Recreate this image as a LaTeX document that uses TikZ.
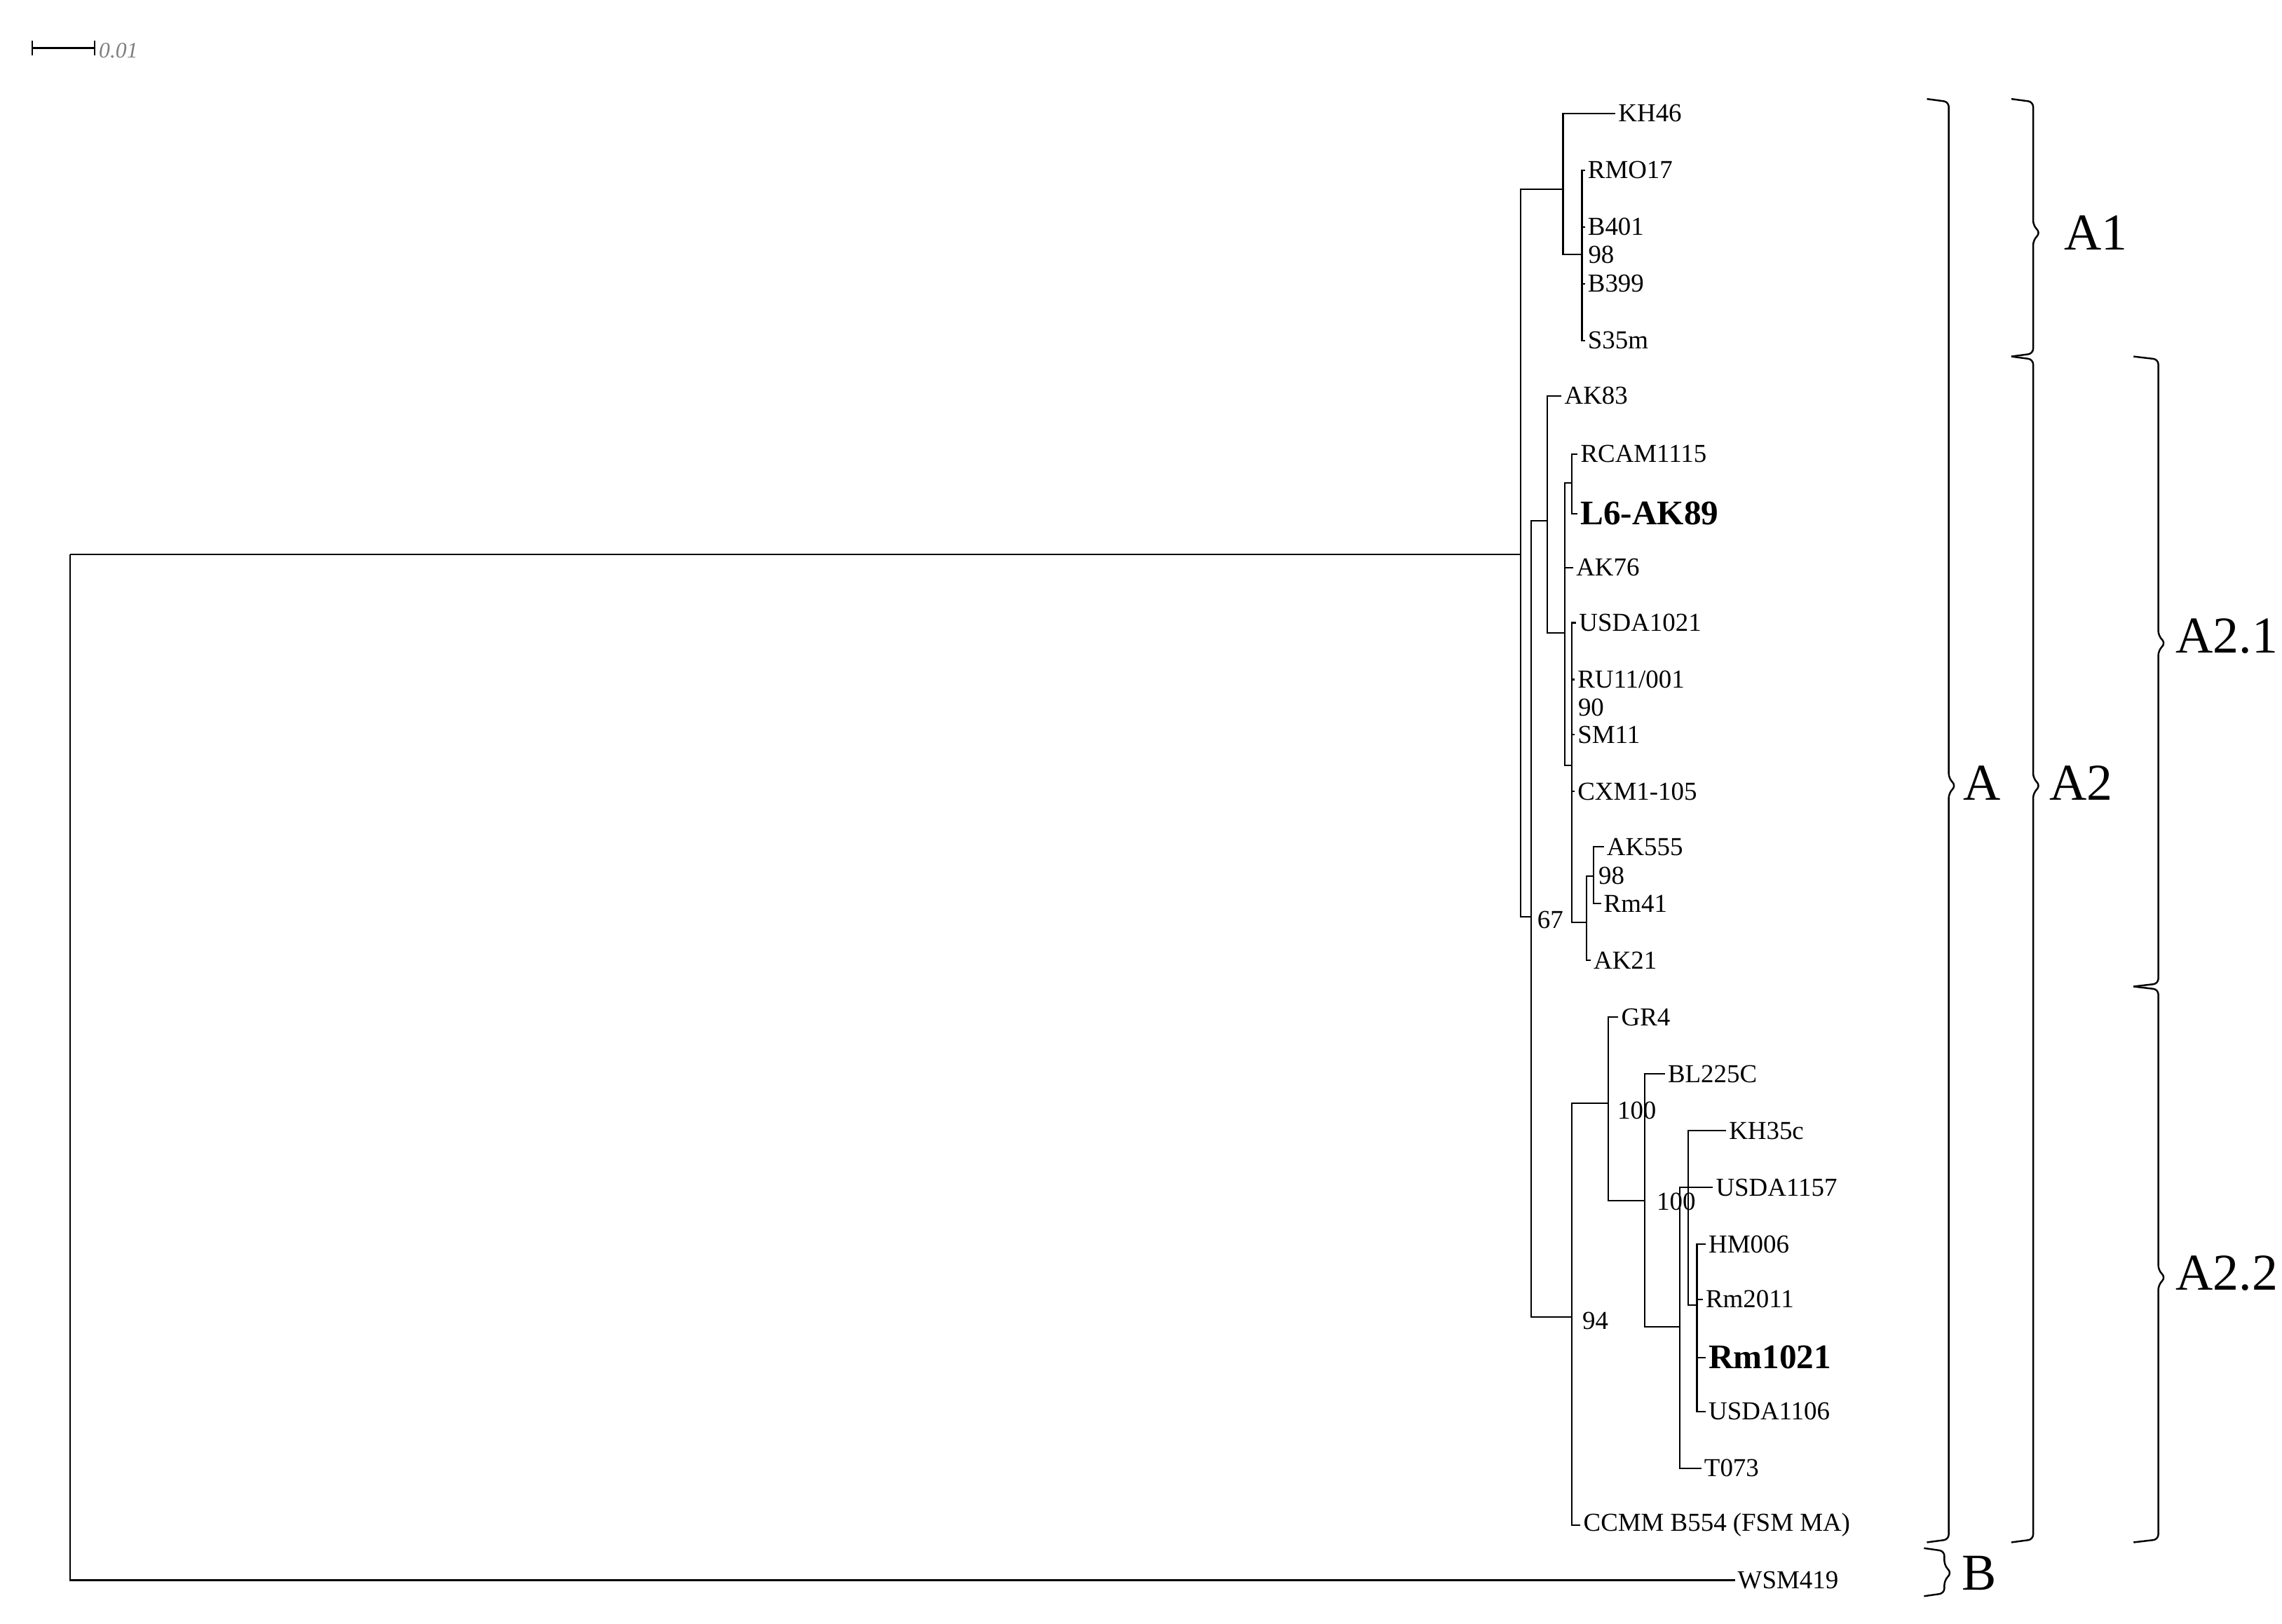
\documentclass[tikz,border=0pt]{standalone}
\usepackage{fontspec}
\setmainfont{Liberation Serif}
\begin{document}
\begin{tikzpicture}[x=0.2076mm,y=-0.2076mm,
  br/.style={line width=0.6pt},
  leaf/.style={anchor=west,inner sep=1pt,font=\fontsize{10.5}{10.5}\selectfont},
  bleaf/.style={leaf,font=\fontsize{14}{14}\selectfont\bfseries},
  boot/.style={anchor=west,inner sep=0pt,font=\fontsize{10.5}{10.5}\selectfont},
  clab/.style={inner sep=0pt,font=\fontsize{21}{21}\selectfont},
  brk/.style={line width=0.7pt,rounded corners=2pt}]
\useasboundingbox (0,0) rectangle (1568,1116);
% scale bar
\draw[br] (22,28) -- (22,38) (22,33) -- (65,33) (65,28) -- (65,38);
\node[anchor=west,inner sep=1pt,text=gray,font=\fontsize{9}{9}\selectfont\itshape] (sc) at (66,35) {0.01};
% internal nodes
\coordinate (root) at (48,381);
\coordinate (n1) at (1045,381);
\coordinate (n2) at (1052,630);
\coordinate (a1) at (1074,130);
\coordinate (s) at (1087,175);
\coordinate (a21) at (1063,358);
\coordinate (p) at (1075,435);
\coordinate (pr) at (1080,332);
\coordinate (q) at (1080,526);
\coordinate (r) at (1090,634);
\coordinate (sx) at (1095,602);
\coordinate (a22) at (1080,905);
\coordinate (t) at (1105,758);
\coordinate (u) at (1130,825);
\coordinate (v) at (1154,912);
\coordinate (w) at (1160,816);
\coordinate (xx) at (1166,897);
% leaves
\node[leaf] (kh46) at (1110,78) {KH46};
\node[leaf] (rmo17) at (1089,117) {RMO17};
\node[leaf] (b401) at (1089,156) {B401};
\node[leaf] (b399) at (1089,195) {B399};
\node[leaf] (s35m) at (1089,234) {S35m};
\node[leaf] (ak83) at (1073,272) {AK83};
\node[leaf] (rcam) at (1084,312) {RCAM1115};
\node[bleaf] (l6) at (1084,353) {L6-AK89};
\node[leaf] (ak76) at (1081,390) {AK76};
\node[leaf] (usda1021) at (1083,428) {USDA1021};
\node[leaf] (ru11) at (1082,467) {RU11/001};
\node[leaf] (sm11) at (1082,505) {SM11};
\node[leaf] (cxm1) at (1082,544) {CXM1-105};
\node[leaf] (ak555) at (1102,582) {AK555};
\node[leaf] (rm41) at (1100,621) {Rm41};
\node[leaf] (ak21) at (1093,660) {AK21};
\node[leaf] (gr4) at (1112,699) {GR4};
\node[leaf] (bl225c) at (1144,738) {BL225C};
\node[leaf] (kh35c) at (1186,777) {KH35c};
\node[leaf] (usda1157) at (1177,816) {USDA1157};
\node[leaf] (hm006) at (1172,855) {HM006};
\node[leaf] (rm2011) at (1170,893) {Rm2011};
\node[bleaf] (rm1021) at (1172,933) {Rm1021};
\node[leaf] (usda1106) at (1172,970) {USDA1106};
\node[leaf] (t073) at (1169,1009) {T073};
\node[leaf] (ccmm) at (1086,1048) {CCMM B554 (FSM MA)};
\node[leaf] (wsm) at (1192,1086) {WSM419};
% edges
\draw[br] (root) |- (n1);
\draw[br] (root) |- (wsm.west);
\draw[br] (n1) |- (a1);
\draw[br] (n1) |- (n2);
\draw[br] (a1) |- (kh46.west);
\draw[br] (a1) |- (s);
\foreach \c in {rmo17,b401,b399,s35m} \draw[br] (s) |- (\c.west);
\draw[br] (n2) |- (a21);
\draw[br] (n2) |- (a22);
\draw[br] (a21) |- (ak83.west);
\draw[br] (a21) |- (p);
\draw[br] (p) |- (pr);
\draw[br] (p) |- (ak76.west);
\draw[br] (p) |- (q);
\draw[br] (pr) |- (rcam.west);
\draw[br] (pr) |- (l6.west);
\foreach \c in {usda1021,ru11,sm11,cxm1} \draw[br] (q) |- (\c.west);
\draw[br] (q) |- (r);
\draw[br] (r) |- (sx);
\draw[br] (r) |- (ak21.west);
\draw[br] (sx) |- (ak555.west);
\draw[br] (sx) |- (rm41.west);
\draw[br] (a22) |- (t);
\draw[br] (a22) |- (ccmm.west);
\draw[br] (t) |- (gr4.west);
\draw[br] (t) |- (u);
\draw[br] (u) |- (bl225c.west);
\draw[br] (u) |- (v);
\draw[br] (v) |- (w);
\draw[br] (v) |- (t073.west);
\draw[br] (w) |- (kh35c.west);
\draw[br] (w) |- (usda1157.west);
\draw[br] (w) |- (xx);
\foreach \c in {hm006,rm2011,rm1021,usda1106} \draw[br] (xx) |- (\c.west);
% bootstrap values
\node[boot] (bs1) at (1091,175) {98};
\node[boot] (bs2) at (1084,486) {90};
\node[boot] (bs3) at (1098,602) {98};
\node[boot] (bs4) at (1056,632) {67};
\node[boot] (bs5) at (1111,763) {100};
\node[boot] (bs6) at (1138,826) {100};
\node[boot] (bs7) at (1087,908) {94};
% brackets
\draw[brk] (1324,68) -- (1339,70) -- (1339,535) -- (1344,540) -- (1339,545) -- (1339,1058) -- (1324,1060);
\draw[brk] (1382,68) -- (1397,70) -- (1397,155) -- (1402,160) -- (1397,165) -- (1397,243) -- (1382,245);
\draw[brk] (1382,245) -- (1397,247) -- (1397,535) -- (1402,540) -- (1397,545) -- (1397,1058) -- (1382,1060);
\draw[brk] (1466,245) -- (1483,247) -- (1483,437) -- (1488,442) -- (1483,447) -- (1483,676) -- (1466,678);
\draw[brk] (1466,678) -- (1483,680) -- (1483,873) -- (1488,878) -- (1483,883) -- (1483,1058) -- (1466,1060);
\draw[brk] (1322,1064) -- (1336,1066) -- (1336,1076) -- (1341,1081) -- (1336,1086) -- (1336,1095) -- (1322,1097);
\node[clab] (lA) at (1362,538) {A};
\node[clab] (lA1) at (1440,160) {A1};
\node[clab] (lA2) at (1430,538) {A2};
\node[clab] (lA21) at (1530,437) {A2.1};
\node[clab] (lA22) at (1530,875) {A2.2};
\node[clab] (lB) at (1360,1081) {B};
\end{tikzpicture}
\end{document}
